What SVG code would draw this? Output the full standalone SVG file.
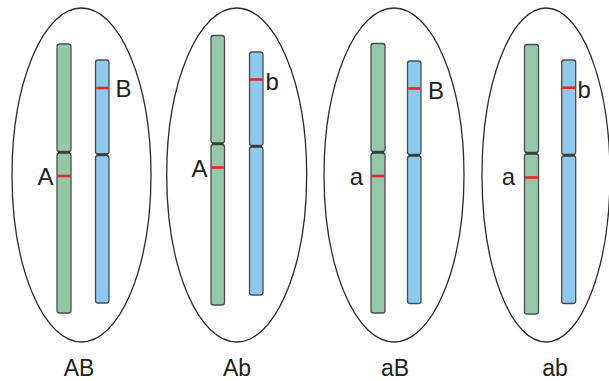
<svg xmlns="http://www.w3.org/2000/svg" width="609" height="381" viewBox="0 0 609 381">
  <style>
    .cell { fill: none; stroke: #2b2b2b; stroke-width: 1.3; }
    .arm { stroke: #4a4d4f; stroke-width: 1.3; }
    .green { fill: #95c8a8; }
    .blue { fill: #8ec8ec; }
    .cen { stroke: #3a3c3e; stroke-width: 2.2; }
    .locus { stroke: #e8262b; stroke-width: 2.6; }
    .lbl { font-family: "Liberation Sans", Arial, sans-serif; font-size: 24px; fill: #231f20; }
    .foot { font-size: 23px; text-anchor: middle; }
    .end { text-anchor: end; }
  </style>

  <!-- Gamete AB -->
  <g id="gamete-AB">
    <ellipse class="cell" cx="81.5" cy="175" rx="69.5" ry="167"/>
    <rect class="arm green" x="57" y="44" width="14" height="107.5" rx="2.5"/>
    <rect class="arm green" x="57" y="153" width="14" height="160" rx="2.5"/>
    <line class="cen" x1="58" y1="152.2" x2="70" y2="152.2"/>
    <line class="locus" x1="57.6" y1="176" x2="70.4" y2="176"/>
    <rect class="arm blue" x="95.5" y="60" width="13.5" height="94" rx="2.5"/>
    <rect class="arm blue" x="95.5" y="155.5" width="13.5" height="147.5" rx="2.5"/>
    <line class="cen" x1="96.5" y1="154.7" x2="108" y2="154.7"/>
    <line class="locus" x1="96.1" y1="88" x2="108.4" y2="88"/>
    <text class="lbl end" x="53.5" y="185">A</text>
    <text class="lbl" x="115.5" y="97">B</text>
    <text class="lbl foot" x="79" y="376">AB</text>
  </g>

  <!-- Gamete Ab -->
  <g id="gamete-Ab">
    <ellipse class="cell" cx="236.7" cy="175" rx="70" ry="167"/>
    <rect class="arm green" x="211" y="35.5" width="13.5" height="107.5" rx="2.5"/>
    <rect class="arm green" x="211" y="144.5" width="13.5" height="160.5" rx="2.5"/>
    <line class="cen" x1="212" y1="143.7" x2="223.5" y2="143.7"/>
    <line class="locus" x1="211.6" y1="167.5" x2="223.9" y2="167.5"/>
    <rect class="arm blue" x="249.5" y="52" width="13.5" height="93.5" rx="2.5"/>
    <rect class="arm blue" x="249.5" y="147" width="13.5" height="148" rx="2.5"/>
    <line class="cen" x1="250.5" y1="146.2" x2="262" y2="146.2"/>
    <line class="locus" x1="250.1" y1="79.5" x2="262.4" y2="79.5"/>
    <text class="lbl end" x="207.5" y="177">A</text>
    <text class="lbl" x="265.5" y="90">b</text>
    <text class="lbl foot" x="237" y="376">Ab</text>
  </g>

  <!-- Gamete aB -->
  <g id="gamete-aB">
    <ellipse class="cell" cx="394" cy="175" rx="70" ry="167"/>
    <rect class="arm green" x="371" y="43.5" width="14" height="108" rx="2.5"/>
    <rect class="arm green" x="371" y="153" width="14" height="160" rx="2.5"/>
    <line class="cen" x1="372" y1="152.2" x2="384" y2="152.2"/>
    <line class="locus" x1="371.6" y1="176" x2="384.4" y2="176"/>
    <rect class="arm blue" x="407.5" y="61" width="13.5" height="93.5" rx="2.5"/>
    <rect class="arm blue" x="407.5" y="156" width="13.5" height="147.5" rx="2.5"/>
    <line class="cen" x1="408.5" y1="155.2" x2="420" y2="155.2"/>
    <line class="locus" x1="408.1" y1="88.5" x2="420.4" y2="88.5"/>
    <text class="lbl end" x="363" y="185">a</text>
    <text class="lbl" x="428" y="99">B</text>
    <text class="lbl foot" x="395" y="376">aB</text>
  </g>

  <!-- Gamete ab -->
  <g id="gamete-ab">
    <ellipse class="cell" cx="546" cy="175" rx="64" ry="167"/>
    <rect class="arm green" x="524.5" y="44.5" width="14" height="108" rx="2.5"/>
    <rect class="arm green" x="524.5" y="154" width="14" height="160" rx="2.5"/>
    <line class="cen" x1="525.5" y1="153.2" x2="537.5" y2="153.2"/>
    <line class="locus" x1="525.1" y1="177.5" x2="537.9" y2="177.5"/>
    <rect class="arm blue" x="561.7" y="60" width="14" height="94.5" rx="2.5"/>
    <rect class="arm blue" x="561.7" y="156" width="14" height="147.5" rx="2.5"/>
    <line class="cen" x1="562.7" y1="155.2" x2="574.7" y2="155.2"/>
    <line class="locus" x1="562.3" y1="87.7" x2="575.1" y2="87.7"/>
    <text class="lbl end" x="515" y="185">a</text>
    <text class="lbl" x="577.5" y="97.5">b</text>
    <text class="lbl foot" x="555" y="376">ab</text>
  </g>

  <!-- no connectors in this figure -->
  <g id="connectors"/>
</svg>
